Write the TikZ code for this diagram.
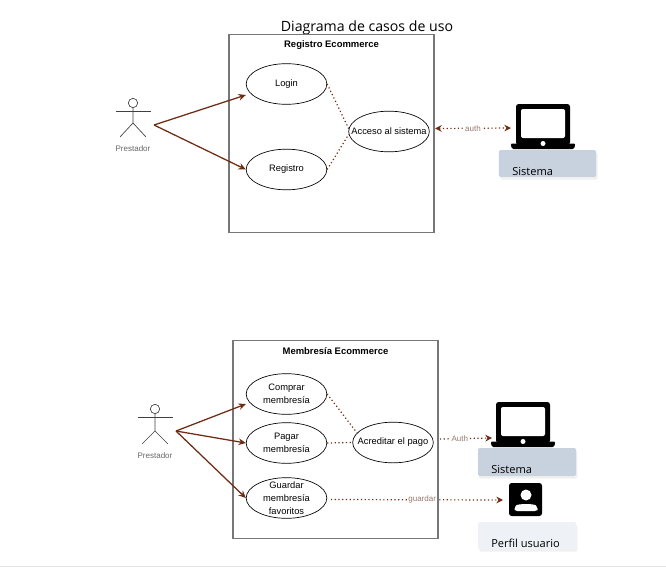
\documentclass[tikz,border=0pt]{standalone}
\usepackage{fontspec}
\setmainfont{Liberation Sans}
\newfontfamily\captionfont{Open Sans}
\usepackage{xcolor}
\definecolor{rust}{HTML}{6E2C14}
\definecolor{framegray}{HTML}{777777}
\definecolor{slatebox}{HTML}{C8D2DE}
\definecolor{paleslate}{HTML}{EEF1F6}
\definecolor{edgetext}{HTML}{9A7A6C}
\usetikzlibrary{positioning,arrows.meta,shapes.geometric,shadows,calc}
\tikzset{
  frame/.style={draw=framegray,line width=1.1pt,minimum width=153.5pt,minimum height=148.5pt},
  usecase/.style={draw,ellipse,line width=.5pt,minimum width=60.5pt,minimum height=30.5pt,inner sep=-10pt,align=center,font=\fontsize{7}{9.6}\selectfont},
  actorline/.style={draw=black!75,line width=.5pt},
  actorname/.style={text=black!60,font=\fontsize{6}{7}\selectfont},
  assoc/.style={draw=rust,line width=.95pt,-{Stealth[length=5.5pt,width=5pt]}},
  link/.style={draw=rust,line width=.9pt,dash pattern=on .9pt off 1.9pt},
  edgelabel/.style={fill=white,inner sep=1pt,text=edgetext,font=\fontsize{6}{7}\selectfont},
  syslabel/.style={anchor=west,inner sep=0pt,font=\captionfont\fontsize{8.3}{10}\selectfont},
  sysbox/.style={fill=#1,rounded corners=1pt,drop shadow={shadow xshift=1pt,shadow yshift=-2pt,opacity=.12},inner sep=0pt},
  laptop/.pic={
    \fill[black,rounded corners=2pt] (-27,-20.5) rectangle (27,20.5);
    \fill[white,rounded corners=1.5pt] (-22,-15.5) rectangle (22,13.5);
    \fill[black,rounded corners=1pt] (-32.5,19) -- (32.5,19) -- (31,24.5) -- (-31,24.5) -- cycle;
    \fill[white] (0,19) circle [radius=2.5];
  }
}
\begin{document}
\begin{tikzpicture}[x=.75pt,y=-.75pt]
\useasboundingbox (0,0) rectangle (666,567);
\node[font=\captionfont\fontsize{10.6}{12}\selectfont] (titulo) at (367,28) {Diagrama de casos de uso};

%%%REGISTRO
\node[frame] (regframe) at (331.5,133.5) {};
\node[font=\bfseries\fontsize{7.1}{8}\selectfont] (regtitle) at (331.5,45.5) {Registro Ecommerce};
\node[usecase] (login) at (286.5,84) {Login};
\node[usecase] (registro) at (286.5,169.5) {Registro};
\node[usecase] (acceso) at (389,131.5) {Acceso al sistema};

\node[circle,actorline,minimum size=7pt,inner sep=0pt] (headA) at (133,103) {};
\draw[actorline] (116,111) -- (150.5,111);
\draw[actorline] (headA) -- (133,123) coordinate (hipA) -- (120,137);
\draw[actorline] (hipA) -- (146,137);
\node[actorname] (prestA) at (133,148.5) {Prestador};
\coordinate (handA) at (154,125);
\draw[assoc] (handA) -- ($(login.west)+(0,11)$);
\draw[assoc] (handA) -- (registro.west);

\draw[link] (login.east) -- (acceso.176);
\draw[link] (registro.east) -- (acceso.184);

\coordinate (authstart) at (435,128.5);
\coordinate (authend) at (511,128);
\draw[link,{Stealth[length=5pt,width=5pt]}-{Stealth[length=5pt,width=5pt]}] (authstart) -- node[edgelabel] {auth} (authend);

\pic at (543,124.5) {laptop};
\node[sysbox=slatebox,minimum width=73pt,minimum height=20pt] (sisA) at (547.5,163.5) {};
\node[syslabel] (sisAtext) at (512,171) {Sistema};

%%%MEMBRESIA
\node[frame] (memframe) at (335.5,439.5) {};
\node[font=\bfseries\fontsize{7.1}{8}\selectfont] (memtitle) at (335.5,351.5) {Membresía Ecommerce};
\node[usecase] (comprar) at (286.5,394) {Comprar\\membresía};
\node[usecase] (pagar) at (286.5,443) {Pagar\\membresía};
\node[usecase] (guardar) at (286.5,498) {Guardar\\membresía\\favoritos};
\node[usecase] (acreditar) at (393,442.5) {Acreditar el pago};

\node[circle,actorline,minimum size=7pt,inner sep=0pt] (headB) at (155,409) {};
\draw[actorline] (137.5,417) -- (172.5,417);
\draw[actorline] (headB) -- (155,431) coordinate (hipB) -- (142,444);
\draw[actorline] (hipB) -- (168,444);
\node[actorname] (prestB) at (155,455.5) {Prestador};
\coordinate (handB) at (176,431);
\draw[assoc] (handB) -- ($(comprar.west)+(0,10)$);
\draw[assoc] (handB) -- (pagar.west);
\draw[assoc] (handB) -- (guardar.west);

\coordinate (credstart) at (440,439);
\coordinate (credend) at (492,438);
\coordinate (favstart) at (331,499.5);
\coordinate (favend) at (503,500);
\draw[link] (comprar.east) -- (acreditar.165);
\draw[link] (pagar.east) -- (acreditar.west);
\draw[link,-{Stealth[length=5pt,width=5pt]}] (credstart) -- node[edgelabel,pos=.38] {Auth} (credend);
\draw[link,-{Stealth[length=5pt,width=5pt]}] (favstart) -- node[edgelabel,pos=.53] {guardar} (favend);

\pic at (523,422.5) {laptop};
\node[sysbox=slatebox,minimum width=73.5pt,minimum height=21pt] (sisB) at (527,462) {};
\node[syslabel] (sisBtext) at (491,469) {Sistema};

\fill[black,rounded corners=2pt] (509,483) rectangle (542,516);
\fill[white] (526,495) circle [radius=5.5];
\fill[white,rounded corners=2pt] (514.5,511) -- (514.5,508) .. controls (517,503.5) and (535,503.5) .. (537.5,508) -- (537.5,511) -- cycle;
\node[sysbox=paleslate,minimum width=73.5pt,minimum height=20pt] (perfil) at (527,535.5) {};
\node[syslabel] (perfiltext) at (491,543) {Perfil usuario};

\draw[black!10,line width=.6pt] (0,566) -- (666,566);
\end{tikzpicture}
\end{document}
